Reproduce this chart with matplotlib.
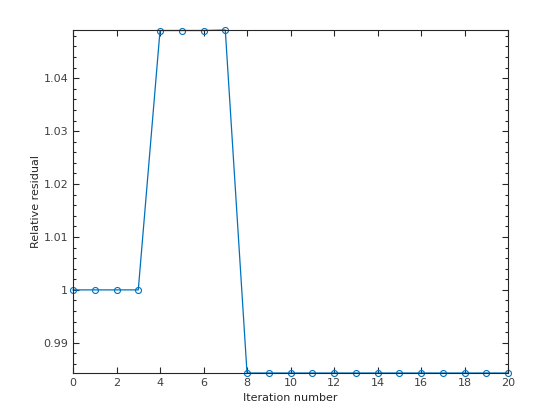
import matplotlib
matplotlib.use("Agg")
import matplotlib.pyplot as plt
from matplotlib.ticker import MultipleLocator

iterations = list(range(21))
residual = [1.0, 1.0, 1.0, 1.0,
            1.0490, 1.0490, 1.0490, 1.0491,
            0.9843, 0.9843, 0.9843, 0.9843, 0.9843, 0.9843, 0.9843,
            0.9843, 0.9843, 0.9843, 0.9843, 0.9843, 0.9843]
xticks = [0, 2, 4, 6, 8, 10, 12, 14, 16, 18, 20]
yticks = [0.99, 1.0, 1.01, 1.02, 1.03, 1.04]
ytick_labels = ["0.99", "1", "1.01", "1.02", "1.03", "1.04"]

plt.rcParams['font.family'] = ['DejaVu Sans']
fig = plt.figure(figsize=(5.6, 4.2), dpi=100)
ax = fig.add_axes([0.1304, 0.1119, 0.7768, 0.8167])
c = '#0072BD'
ax.plot(iterations, residual, '-', color=c, lw=0.9, marker='o', markersize=4.3,
        markerfacecolor='none', markeredgecolor=c, markeredgewidth=0.8, clip_on=False)
ax.set_xlim(0, 20)
ax.set_ylim(min(residual), max(residual))
ax.set_xticks(xticks)
ax.set_yticks(yticks)
ax.set_yticklabels(ytick_labels)
ax.yaxis.set_minor_locator(MultipleLocator(0.002))
tc = '#262626'
ax.tick_params(which='both', direction='in', top=True, right=True, colors=tc,
               labelsize=8, width=0.8)
ax.tick_params(which='major', length=4)
ax.tick_params(which='minor', length=2.5)
ax.tick_params(axis='both', labelcolor='#404040')
for s in ax.spines.values():
    s.set_color(tc)
    s.set_linewidth(0.8)
ax.set_xlabel('Iteration number', fontsize=8, color=tc, labelpad=4)
ax.set_ylabel('Relative residual', fontsize=8, color=tc, labelpad=2)
fig.savefig('out.png', dpi=100, facecolor='white')
